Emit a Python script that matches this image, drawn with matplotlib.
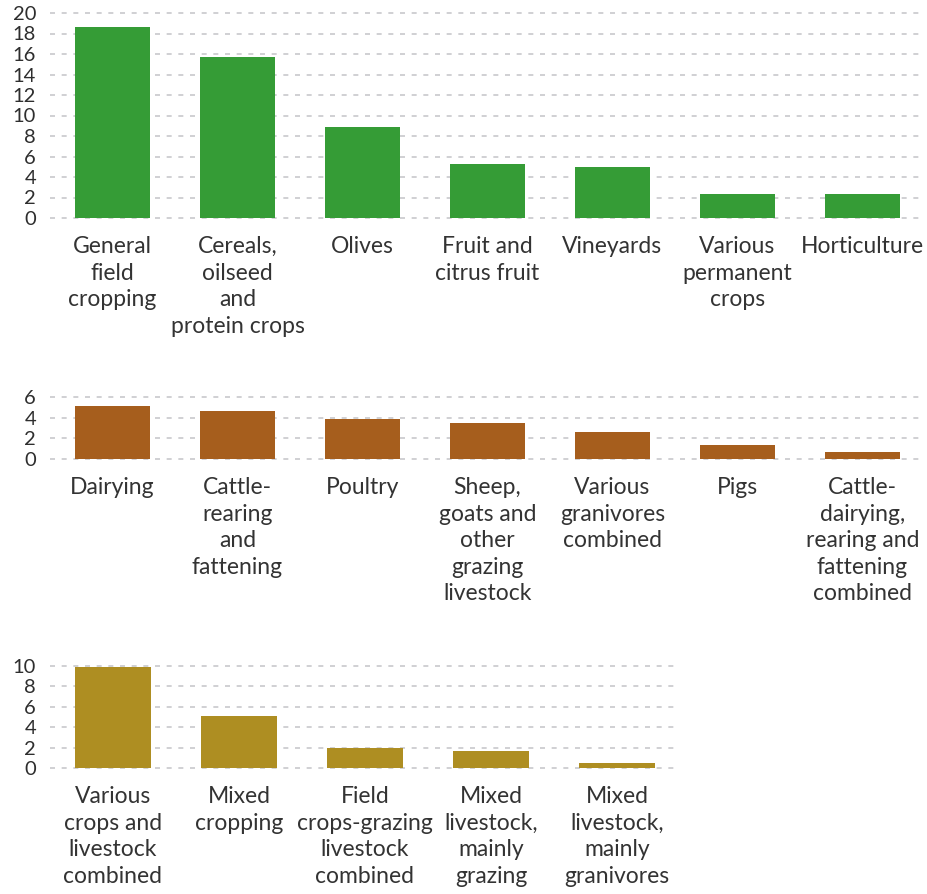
import matplotlib
matplotlib.use("Agg")
import matplotlib.pyplot as plt
from matplotlib import font_manager

crops_labels = ["General\nfield\ncropping", "Cereals,\noilseed\nand\nprotein crops", "Olives",
                "Fruit and\ncitrus fruit", "Vineyards", "Various\npermanent\ncrops", "Horticulture"]
crops_values = [18.6, 15.7, 8.85, 5.25, 4.95, 2.3, 2.3]

livestock_labels = ["Dairying", "Cattle-\nrearing\nand\nfattening", "Poultry",
                    "Sheep,\ngoats and\nother\ngrazing\nlivestock", "Various\ngranivores\ncombined", "Pigs",
                    "Cattle-\ndairying,\nrearing and\nfattening\ncombined"]
livestock_values = [5.1, 4.6, 3.85, 3.5, 2.6, 1.4, 0.72]

mixed_labels = ["Various\ncrops and\nlivestock\ncombined", "Mixed\ncropping", "Field\ncrops-grazing\nlivestock\ncombined",
                "Mixed\nlivestock,\nmainly\ngrazing", "Mixed\nlivestock,\nmainly\ngranivores"]
mixed_values = [9.9, 5.1, 1.95, 1.65, 0.52]

crops_ticks = list(range(0, 21, 2))
livestock_ticks = [0, 2, 4, 6]
mixed_ticks = [0, 2, 4, 6, 8, 10]

avail = {f.name for f in font_manager.fontManager.ttflist}
label_font = "Lato" if "Lato" in avail else "DejaVu Sans"
tick_font = "Liberation Sans Narrow" if "Liberation Sans Narrow" in avail else label_font

W, H = 927, 894
fig = plt.figure(figsize=(W / 100, H / 100), dpi=100)

def px_axes(left, right, top, bottom):
    return fig.add_axes([left / W, 1 - bottom / H, (right - left) / W, (bottom - top) / H])

panels = [
    (crops_labels, crops_values, crops_ticks, "#359c36", (50, 925, 13, 218), 20),
    (livestock_labels, livestock_values, livestock_ticks, "#a65e1d", (50, 925, 397, 459), 6),
    (mixed_labels, mixed_values, mixed_ticks, "#ae8e22", (50, 680, 666, 768), 10),
]

for labels, values, ticks, color, (l, r, t, b), ymax in panels:
    ax = px_axes(l, r, t, b)
    x = list(range(len(values)))
    ax.bar(x, values, width=0.6, color=color, zorder=3)
    ax.set_xlim(-0.5, len(values) - 0.5)
    ax.set_ylim(0, ymax)
    ax.set_yticks(ticks)
    ax.set_yticklabels([str(v) for v in ticks], fontsize=14.5, family=[tick_font, "DejaVu Sans"], color="#2e2e2e")
    ax.tick_params(axis="y", length=0, pad=10)
    ax.set_xticks(x)
    ax.set_xticklabels(labels, fontsize=16.5, family=[label_font, "DejaVu Sans"], color="#333333",
                       linespacing=1.33, va="top")
    ax.tick_params(axis="x", length=0, pad=13)
    for s in ax.spines.values():
        s.set_visible(False)
    ax.yaxis.grid(True, color="#c8c8cc", linestyle=(0, (3, 4)), linewidth=1.2, zorder=0)
    ax.set_axisbelow(True)
    for gl in ax.get_ygridlines():
        gl.set_clip_on(False)

fig.savefig("out.png", dpi=100)
